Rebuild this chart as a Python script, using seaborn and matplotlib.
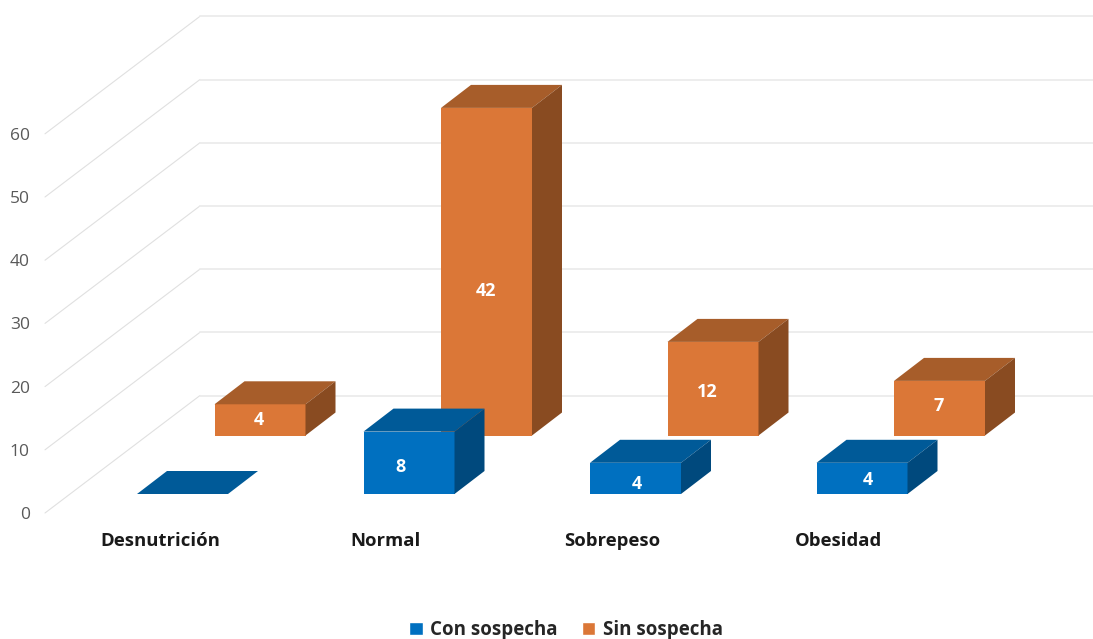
import matplotlib
matplotlib.use("Agg")
import matplotlib.pyplot as plt
from matplotlib.patches import Patch, Polygon
import pandas as pd
import seaborn as sns

categories = ["Desnutrición", "Normal", "Sobrepeso", "Obesidad"]
con_sospecha = [0, 8, 4, 4]
sin_sospecha = [4, 42, 12, 7]
y_ticks = [0, 10, 20, 30, 40, 50, 60]

W, H = 1093, 639
sns.set_theme(style="white")
plt.rcParams["font.family"] = ["Open Sans", "DejaVu Sans"]

BLUE = {"front": "#0070C0", "top": "#005A98", "side": "#00497D"}
ORANGE = {"front": "#DB7737", "top": "#A75D2A", "side": "#894B21"}

fig = plt.figure(figsize=(W / 100, H / 100), dpi=100, facecolor="white")


def axes_px(left, right, top, bottom):
    """Create a transparent axes from pixel edges measured from the top-left."""
    ax = fig.add_axes([left / W, 1 - bottom / H, (right - left) / W, (bottom - top) / H])
    ax.patch.set_alpha(0)
    return ax


# Back wall and floor: each gridline runs diagonally, then along the wall
CAT_STEP = 226
WALL_PX = 6.32
wall = axes_px(45, W, 0, 513)
wall.set_xlim((45 - 160) / CAT_STEP, (W - 160) / CAT_STEP)
wall.set_ylim(0, 513 / WALL_PX)
x0, x1 = wall.get_xlim()
depth_x = 155 / CAT_STEP
depth_y = 117.5 / WALL_PX
for v in y_ticks:
    wall.plot([x0, x0 + depth_x], [v, v + depth_y], color="#E0E0E0", lw=0.8, clip_on=False)
    wall.plot([x0 + depth_x, x1], [v + depth_y, v + depth_y], color="#ECECEC", lw=1.3, clip_on=False)
wall.set_yticks(y_ticks)
wall.set_xticks(range(len(categories)))
wall.set_xticklabels(categories, fontsize=13.3, fontweight="bold", color="#1a1a1a")
wall.tick_params(axis="y", length=0, pad=11, labelsize=12.5, labelcolor="#595959")
wall.tick_params(axis="x", length=0, pad=14)
sns.despine(ax=wall, left=True, bottom=True)
wall.set_xlabel("")


def draw_series(values, palette, left_center, baseline, nudges):
    """Draw one row of boxes: seaborn bars for the fronts, polygons for depth."""
    step = 226.5
    bar_px = 7.8
    ax = axes_px(left_center - step / 2, left_center + step * 3.5, baseline - 55 * bar_px, baseline)
    frame = pd.DataFrame({"categoria": categories, "valor": values})
    sns.barplot(data=frame, x="categoria", y="valor", color=palette["front"], saturation=1,
                width=91 / step, ax=ax, order=categories, linewidth=0)
    ax.set_xlim(-0.5, 3.5)
    ax.set_ylim(0, 55)
    ax.axis("off")
    dx, dy = 30 / step, 23 / bar_px
    for bar, value, (nx, ny) in zip(ax.patches, values, nudges):
        xa, xb = bar.get_x(), bar.get_x() + bar.get_width()
        top = [(xa, value), (xb, value), (xb + dx, value + dy), (xa + dx, value + dy)]
        side = [(xb, 0), (xb, value), (xb + dx, value + dy), (xb + dx, dy)]
        ax.add_patch(Polygon(top, facecolor=palette["top"], edgecolor="none", clip_on=False))
        if value > 0:
            ax.add_patch(Polygon(side, facecolor=palette["side"], edgecolor="none", clip_on=False))
            ax.annotate(str(value), ((xa + xb) / 2, value / 2), xytext=(nx * 0.72, ny * 0.72),
                        textcoords="offset points", ha="center", va="center",
                        color="white", fontsize=13, fontweight="bold", annotation_clip=False)
    return ax


# Label offsets in pixels from the centre of each front face (positive y is up)
draw_series(sin_sospecha, ORANGE, 260, 435.5, [(-1, 0), (-1, -19), (-6, -3), (-1, 2)])
draw_series(con_sospecha, BLUE, 182.5, 494, [(0, 0), (-9, -4), (1, -6), (6, -2)])

fig.legend(
    handles=[Patch(facecolor=BLUE["front"], label="Con sospecha"),
             Patch(facecolor=ORANGE["front"], label="Sin sospecha")],
    loc="center", bbox_to_anchor=(566 / W, 1 - 630 / H), ncol=2, frameon=False,
    handlelength=0.72, handleheight=0.72, handletextpad=0.4, columnspacing=1.3, borderpad=0,
    prop={"size": 13.5, "weight": "bold"}, labelcolor="#262626",
)

fig.savefig("out.png", dpi=100)
